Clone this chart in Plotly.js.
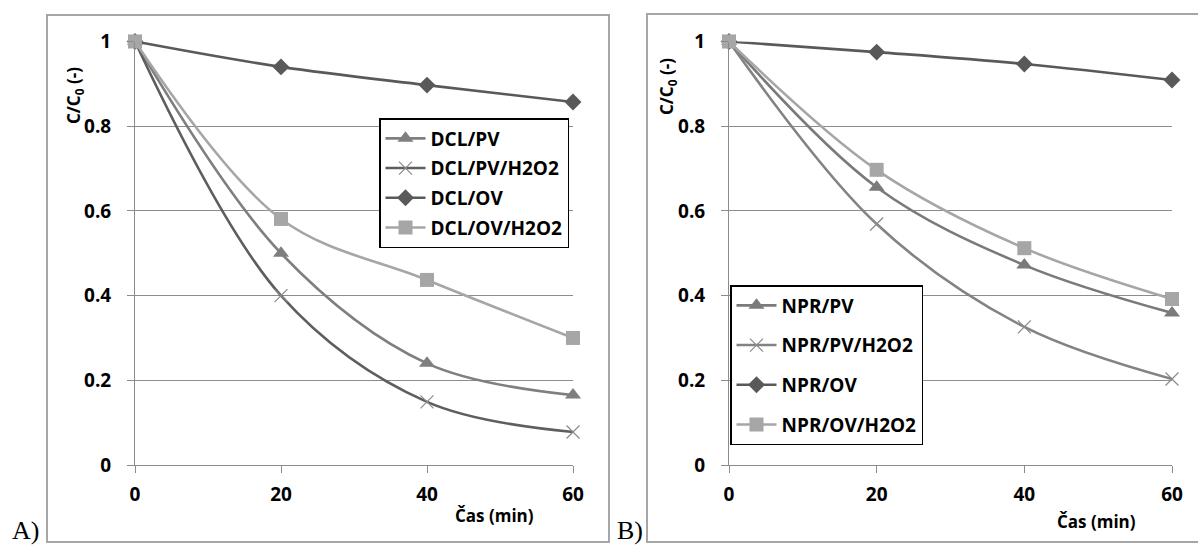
<!DOCTYPE html>
<html>
<head>
<meta charset="utf-8">
<script src="https://cdn.plot.ly/plotly-3.0.1.min.js"></script>
<style>html,body{margin:0;padding:0;background:#fff;}#chart{width:1198px;height:547px;}</style>
</head>
<body>
<div id="chart"></div>
<script>
// Data
const time = [0, 20, 40, 60];
const xTicks = [0, 20, 40, 60];

const dclNames = ["DCL/PV", "DCL/PV/H2O2", "DCL/OV", "DCL/OV/H2O2"];
const dclPV = [1, 0.50, 0.24, 0.165];
const dclPVH2O2 = [1, 0.40, 0.149, 0.078];
const dclOV = [1, 0.94, 0.897, 0.857];
const dclOVH2O2 = [1, 0.581, 0.437, 0.30];

const nprNames = ["NPR/PV", "NPR/PV/H2O2", "NPR/OV", "NPR/OV/H2O2"];
const nprPV = [1, 0.656, 0.472, 0.359];
const nprPVH2O2 = [1, 0.569, 0.326, 0.203];
const nprOV = [1, 0.975, 0.947, 0.909];
const nprOVH2O2 = [1, 0.697, 0.512, 0.392];

const W = 1198, H = 547;
const px = v => v / W;
const py = v => 1 - v / H;

function tr(name, y, xa, ya, leg, color, symbol, size, mcolor, mline) {
  return {
    x: time, y: y, name: name, type: 'scatter', mode: 'lines+markers',
    xaxis: xa, yaxis: ya, legend: leg, legendgroup: name, cliponaxis: false,
    line: {color: color, width: 2.6, shape: 'spline', smoothing: 1},
    marker: {symbol: symbol, size: size, color: mcolor || color,
             line: mline || {width: 0}}
  };
}

const cPV = '#7f7f7f', cPVH = '#5e5e5e', cOV = '#595959', cOVH = '#a6a6a6';

const data = [
  tr(dclNames[0], dclPV, 'x', 'y', 'legend', cPV, 'triangle-up', 14),
  tr(dclNames[1], dclPVH2O2, 'x', 'y', 'legend', cPVH, 'x-thin', 13, '#8a8a8a', {width: 1.2, color: '#8a8a8a'}),
  tr(dclNames[2], dclOV, 'x', 'y', 'legend', cOV, 'diamond', 13),
  tr(dclNames[3], dclOVH2O2, 'x', 'y', 'legend', cOVH, 'square', 14),
  tr(nprNames[0], nprPV, 'x2', 'y2', 'legend2', '#7a7a7a', 'triangle-up', 14),
  tr(nprNames[1], nprPVH2O2, 'x2', 'y2', 'legend2', '#838383', 'x-thin', 13, '#8a8a8a', {width: 1.2, color: '#8a8a8a'}),
  tr(nprNames[2], nprOV, 'x2', 'y2', 'legend2', cOV, 'diamond', 13),
  tr(nprNames[3], nprOVH2O2, 'x2', 'y2', 'legend2', cOVH, 'square', 14)
];

const tickFont = {family: 'Open Sans, sans-serif', size: 19, color: '#000', weight: 'bold'};
const gridC = '#8c8c8c';

function xax(domain, anchor) {
  return {domain: domain, anchor: anchor, range: [0, 60], tickvals: xTicks,
    showgrid: false, zeroline: false, showline: true, linecolor: gridC, linewidth: 1,
    ticks: 'outside', ticklen: 7, tickcolor: gridC, tickfont: tickFont, ticklabelstandoff: 5};
}
function yax(anchor) {
  return {domain: [py(465), py(41.5)], anchor: anchor, range: [0, 1], dtick: 0.2,
    showgrid: true, gridcolor: gridC, gridwidth: 1, zeroline: false, showline: true,
    linecolor: gridC, linewidth: 1, ticks: 'outside', ticklen: 7, tickcolor: gridC,
    tickfont: tickFont, ticklabelstandoff: 12};
}

const legFont = {family: 'Open Sans, sans-serif', size: 19, color: '#000', weight: 'bold'};
const titleFont = {family: 'Open Sans, sans-serif', size: 17, color: '#000', weight: 'bold'};

const layout = {
  width: W, height: H, autosize: false,
  margin: {l: 0, r: 0, t: 0, b: 0},
  paper_bgcolor: '#fff', plot_bgcolor: '#fff',
  showlegend: true,
  xaxis: xax([px(135), px(573)], 'y'),
  yaxis: yax('x'),
  xaxis2: xax([px(729), px(1172)], 'y2'),
  yaxis2: yax('x2'),
  legend: {x: px(379), y: py(118), xanchor: 'left', yanchor: 'top',
    bgcolor: '#fff', bordercolor: '#000', borderwidth: 1.5, font: legFont,
    traceorder: 'grouped', tracegroupgap: 2, itemwidth: 40},
  legend2: {x: px(730), y: py(285), xanchor: 'left', yanchor: 'top',
    bgcolor: '#fff', bordercolor: '#000', borderwidth: 1.5, font: legFont,
    traceorder: 'grouped', tracegroupgap: 12, itemwidth: 40},
  shapes: [
    {type: 'rect', xref: 'paper', yref: 'paper', x0: px(47), x1: px(609), y0: py(542), y1: py(15),
     line: {color: '#a6a6a6', width: 2}, layer: 'below'},
    {type: 'rect', xref: 'paper', yref: 'paper', x0: px(647), x1: px(1199), y0: py(542), y1: py(14),
     line: {color: '#a6a6a6', width: 2}, layer: 'below'}
  ],
  annotations: [
    {text: 'C/C<sub>0</sub> (-)', xref: 'paper', yref: 'paper', x: px(74), y: py(96),
     xanchor: 'center', yanchor: 'middle',
     textangle: -90, showarrow: false, font: titleFont},
    {text: 'C/C<sub>0</sub> (-)', xref: 'paper', yref: 'paper', x: px(668), y: py(87),
     xanchor: 'center', yanchor: 'middle',
     textangle: -90, showarrow: false, font: titleFont},
    {text: 'Čas (min)', xref: 'paper', yref: 'paper', x: px(494), y: py(515),
     xanchor: 'center', yanchor: 'middle', showarrow: false, font: titleFont},
    {text: 'Čas (min)', xref: 'paper', yref: 'paper', x: px(1096), y: py(521),
     xanchor: 'center', yanchor: 'middle', showarrow: false, font: titleFont},
    {text: 'A)', xref: 'paper', yref: 'paper', x: px(25), y: py(530),
     xanchor: 'center', yanchor: 'middle',
     showarrow: false, font: {family: 'Liberation Serif, serif', size: 26, color: '#000'}},
    {text: 'B)', xref: 'paper', yref: 'paper', x: px(630), y: py(530),
     xanchor: 'center', yanchor: 'middle',
     showarrow: false, font: {family: 'Liberation Serif, serif', size: 26, color: '#000'}}
  ]
};

Plotly.newPlot('chart', data, layout, {displayModeBar: false, staticPlot: true});
</script>
</body>
</html>
